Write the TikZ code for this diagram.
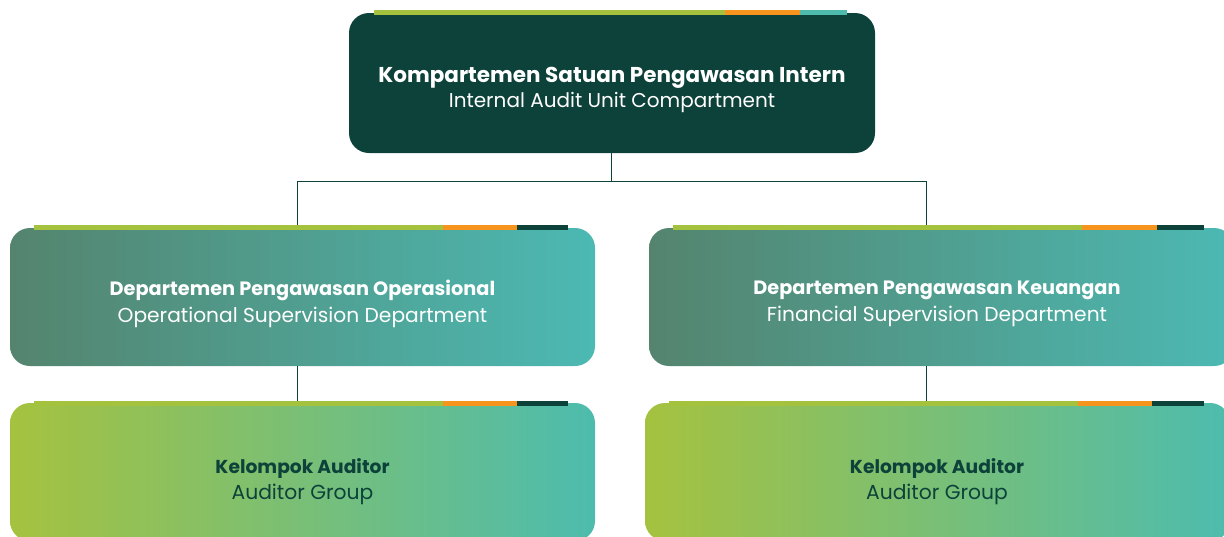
\documentclass[tikz,border=0pt]{standalone}
\usepackage{fontspec}
\setmainfont{Poppins}
\usetikzlibrary{positioning}

\definecolor{deepgreen}{HTML}{0C4239}
\definecolor{leafgreen}{HTML}{A5C23F}
\definecolor{accentorange}{HTML}{F7941D}
\definecolor{seateal}{HTML}{4DBCAE}
\definecolor{mossgreen}{HTML}{54846E}
\definecolor{lightteal}{HTML}{4CB9B3}

% colour strip on top of a box: green, orange, then a last colour
\newcommand\boxstrip[6]{%
  \fill[leafgreen] (#1,#5) rectangle (#2,#5+5);
  \fill[accentorange] (#2,#5) rectangle (#3,#5+5);
  \fill[#6] (#3,#5) rectangle (#4,#5+5);
}

\begin{document}
\begin{tikzpicture}[x=1pt, y=-1pt,
    unit/.style={rounded corners=20pt, inner sep=0pt},
    headunit/.style={unit, fill=deepgreen, minimum width=526pt, minimum height=140pt},
    deptunit/.style={unit, left color=mossgreen, right color=lightteal,
      minimum width=585pt, minimum height=138pt},
    auditunit/.style={unit, left color=leafgreen, right color=seateal,
      minimum width=585pt, minimum height=138pt},
    caption/.style={inner sep=0pt, align=center},
    link/.style={draw=deepgreen, line width=1pt}
]
\useasboundingbox (0,0) rectangle (1224,536);
\clip (0,0) rectangle (1224,536);

% boxes
\node[headunit] (kspi) at (612,83) {};
\node[deptunit] (opdept) at (302.5,297) {};
\node[deptunit] (findept) at (941.5,297) {};
\node[auditunit] (opaudit) at (302.5,472) {};
\node[auditunit] (finaudit) at (937.5,472) {};

% box titles
\node[caption, text=white, font=\fontsize{20}{25}\selectfont] (kspitext) at (612,89.5)
  {{\fontsize{21.5}{25}\selectfont\bfseries Kompartemen Satuan Pengawasan Intern}\\Internal Audit Unit Compartment};
\node[caption, text=white, font=\fontsize{20.2}{27}\selectfont] (opdepttext) at (302.5,304)
  {{\fontsize{19.3}{27}\selectfont\bfseries Departemen Pengawasan Operasional}\\Operational Supervision Department};
\node[caption, text=white, font=\fontsize{20.2}{27}\selectfont] (findepttext) at (937,304)
  {{\fontsize{19.3}{27}\selectfont\bfseries Departemen Pengawasan Keuangan}\\Financial Supervision Department};
\node[caption, text=deepgreen, font=\fontsize{20.3}{26}\selectfont] (opaudittext) at (302.5,481.5)
  {{\fontsize{18.7}{26}\selectfont\bfseries Kelompok Auditor}\\Auditor Group};
\node[caption, text=deepgreen, font=\fontsize{20.3}{26}\selectfont] (finaudittext) at (937,481.5)
  {{\fontsize{18.7}{26}\selectfont\bfseries Kelompok Auditor}\\Auditor Group};

% connectors
\draw[link] ([xshift=-1pt]kspi.south) -- ++(0,28) coordinate (fork);
\draw[link] ([xshift=-5.5pt]opdept.north) -- ([xshift=-5.5pt]opdept.north |- fork)
  -- ([xshift=-15.5pt]findept.north |- fork) -- ([xshift=-15.5pt]findept.north);
\draw[link] ([xshift=-5.5pt]opdept.south) -- ([xshift=-5.5pt]opaudit.north);
\draw[link] ([xshift=-15.5pt]findept.south) -- ([xshift=-11.5pt]finaudit.north);

% strips
\boxstrip{374}{725}{800}{847}{10}{seateal}
\boxstrip{34}{443}{517}{568}{225}{deepgreen}
\boxstrip{673}{1082}{1157}{1204}{225}{deepgreen}
\boxstrip{34}{443}{517}{568}{401}{deepgreen}
\boxstrip{669}{1078}{1152}{1204}{401}{deepgreen}
\end{tikzpicture}
\end{document}
